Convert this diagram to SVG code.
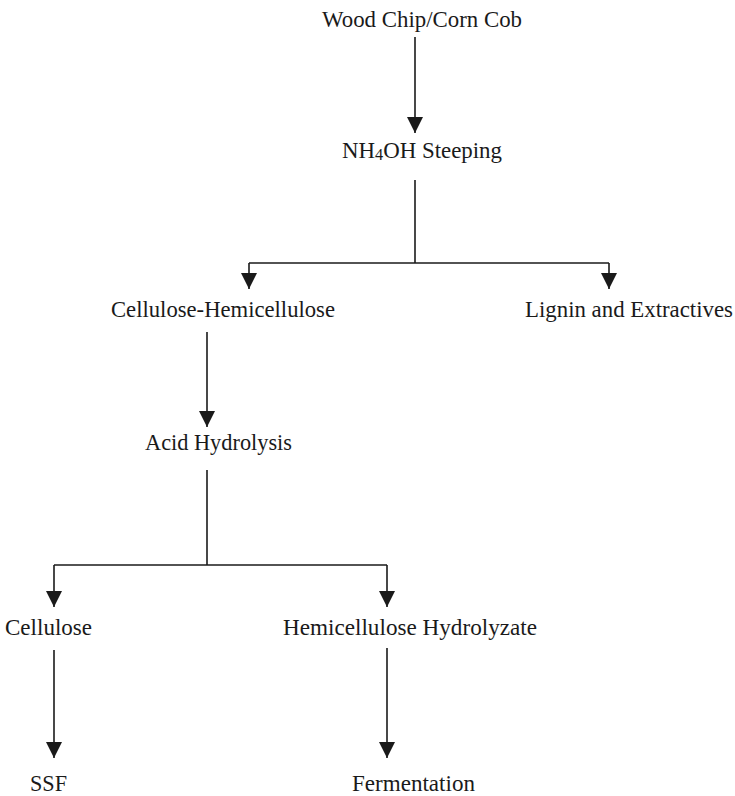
<svg xmlns="http://www.w3.org/2000/svg" width="735" height="796" viewBox="0 0 735 796">
  <style>
    .lbl { font-family: "Liberation Serif", "Times New Roman", serif; font-size: 22.5px; fill: #1a1a1a; }
    .wire { fill: none; stroke: #1a1a1a; stroke-width: 1.6; }
  </style>
  <defs>
    <!-- solid triangular arrowhead, tip at the end of the line -->
    <marker id="head" markerUnits="userSpaceOnUse" markerWidth="16" markerHeight="16" refX="15" refY="7.5" orient="auto" viewBox="0 0 15 15">
      <path d="M0,0 L15,7.5 L0,15 Z" fill="#1a1a1a"/>
    </marker>
  </defs>

  <rect width="735" height="796" fill="#ffffff"/>

  <!-- connectors -->
  <g id="connectors" class="wire">
    <line x1="415" y1="37" x2="415" y2="133" marker-end="url(#head)"/>
    <line x1="415" y1="180" x2="415" y2="263"/>
    <line x1="249" y1="263" x2="609" y2="263"/>
    <line x1="249" y1="263" x2="249" y2="289" marker-end="url(#head)"/>
    <line x1="609" y1="263" x2="609" y2="289" marker-end="url(#head)"/>
    <line x1="207" y1="332" x2="207" y2="427" marker-end="url(#head)"/>
    <line x1="207" y1="470" x2="207" y2="565"/>
    <line x1="54" y1="565" x2="387" y2="565"/>
    <line x1="54" y1="565" x2="54" y2="607" marker-end="url(#head)"/>
    <line x1="387" y1="565" x2="387" y2="607" marker-end="url(#head)"/>
    <line x1="54" y1="650" x2="54" y2="758" marker-end="url(#head)"/>
    <line x1="387" y1="648" x2="387" y2="758" marker-end="url(#head)"/>
  </g>

  <!-- nodes -->
  <g id="feedstock">
    <text class="lbl" x="322" y="27" textLength="200" lengthAdjust="spacingAndGlyphs">Wood Chip/Corn Cob</text>
  </g>
  <g id="steeping">
    <text class="lbl" x="342" y="158" textLength="160" lengthAdjust="spacingAndGlyphs">NH<tspan font-size="16" dy="2">4</tspan><tspan dy="-2">OH Steeping</tspan></text>
  </g>
  <g id="cellulose-hemicellulose">
    <text class="lbl" x="111" y="317" textLength="224" lengthAdjust="spacingAndGlyphs">Cellulose-Hemicellulose</text>
  </g>
  <g id="lignin">
    <text class="lbl" x="525" y="317" textLength="208" lengthAdjust="spacingAndGlyphs">Lignin and Extractives</text>
  </g>
  <g id="acid-hydrolysis">
    <text class="lbl" x="145" y="450" textLength="147" lengthAdjust="spacingAndGlyphs">Acid Hydrolysis</text>
  </g>
  <g id="cellulose">
    <text class="lbl" x="5" y="635" textLength="87" lengthAdjust="spacingAndGlyphs">Cellulose</text>
  </g>
  <g id="hemicellulose-hydrolyzate">
    <text class="lbl" x="283" y="635" textLength="254" lengthAdjust="spacingAndGlyphs">Hemicellulose Hydrolyzate</text>
  </g>
  <g id="ssf">
    <text class="lbl" x="30" y="791" textLength="37" lengthAdjust="spacingAndGlyphs">SSF</text>
  </g>
  <g id="fermentation">
    <text class="lbl" x="352" y="791" textLength="123" lengthAdjust="spacingAndGlyphs">Fermentation</text>
  </g>
</svg>
